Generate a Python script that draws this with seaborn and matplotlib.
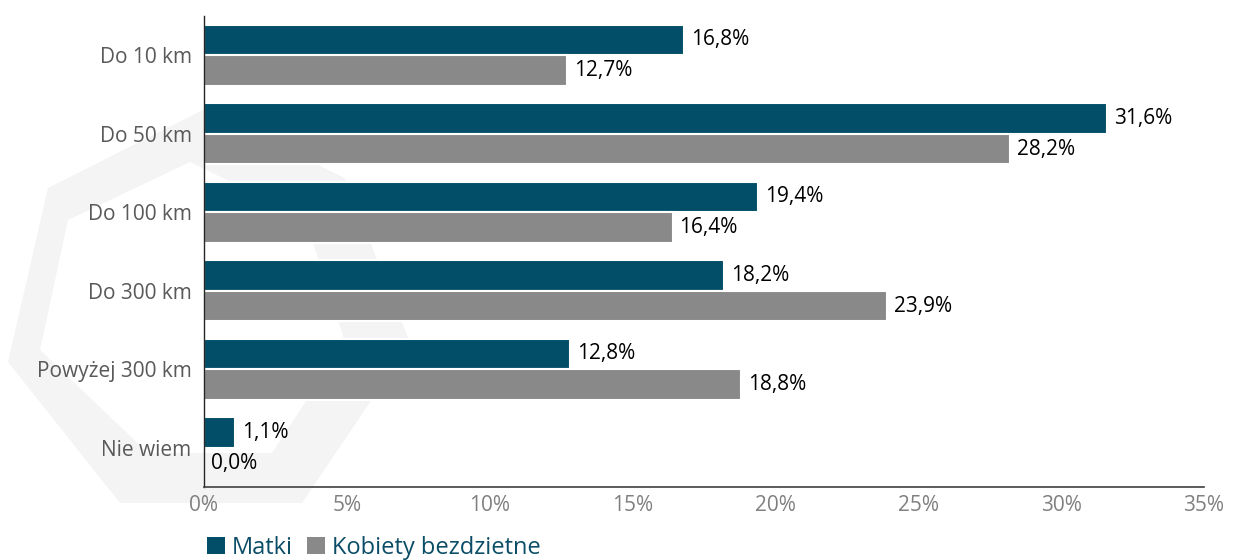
import matplotlib
matplotlib.use("Agg")
import matplotlib.pyplot as plt
from matplotlib.patches import Polygon, Patch
import seaborn as sns
import pandas as pd

categories = ["Do 10 km", "Do 50 km", "Do 100 km", "Do 300 km", "Powyżej 300 km", "Nie wiem"]
series_names = ["Matki", "Kobiety bezdzietne"]
matki = [16.8, 31.6, 19.4, 18.2, 12.8, 1.1]
bezdzietne = [12.7, 28.2, 16.4, 23.9, 18.8, 0.0]
x_ticks = [0, 5, 10, 15, 20, 25, 30, 35]
x_tick_labels = ["0%", "5%", "10%", "15%", "20%", "25%", "30%", "35%"]

colors = ["#024e68", "#898989"]

df = pd.DataFrame({
    "kategoria": categories * 2,
    "grupa": [series_names[0]] * len(categories) + [series_names[1]] * len(categories),
    "wartosc": matki + bezdzietne,
})

sns.set_theme(style="white")
plt.rcParams["font.family"] = ["Open Sans", "DejaVu Sans"]

W, H = 1233, 560
fig = plt.figure(figsize=(W / 100, H / 100), dpi=100)
fig.patch.set_facecolor("white")

# faint hexagonal watermark in the background
def px(points):
    return [(x / W, 1 - y / H) for x, y in points]

outer = [(8, 362), (48, 188), (203, 110), (345, 178), (410, 343), (302, 503), (120, 503)]
inner = [(40, 350), (68, 220), (190, 162), (305, 218), (345, 342), (272, 453), (148, 453)]
fig.patches.append(Polygon(px(outer), closed=True, transform=fig.transFigure,
                           facecolor="#f4f4f4", edgecolor="none", zorder=-10))
fig.patches.append(Polygon(px(inner), closed=True, transform=fig.transFigure,
                           facecolor="white", edgecolor="none", zorder=-9))

ax = fig.add_axes([204 / W, 1 - 487 / H, 1000 / W, 471 / H])
ax.set_facecolor("none")
ax.set_zorder(5)

sns.barplot(data=df, y="kategoria", x="wartosc", hue="grupa", order=categories,
            hue_order=series_names, palette=colors, saturation=1, orient="h",
            width=0.78, edgecolor="white", linewidth=1.5, ax=ax, legend=False)

for container, vals in zip(ax.containers, [matki, bezdzietne]):
    labels = [f"{v:.1f}".replace(".", ",") + "%" for v in vals]
    ax.bar_label(container, labels=labels, padding=5, fontsize=15, color="#000000")

ax.set_xlim(0, 35)
ax.set_xticks(x_ticks)
ax.set_xticklabels(x_tick_labels, fontsize=15, color="#808080")
ax.tick_params(axis="x", direction="in", length=4, width=1, color="#404040", pad=6)
ax.tick_params(axis="y", length=0, pad=9, labelsize=15, labelcolor="#595959")
ax.set_xlabel("")
ax.set_ylabel("")

for side in ["top", "right"]:
    ax.spines[side].set_visible(False)
ax.spines["left"].set_color("#262626")
ax.spines["left"].set_linewidth(1.0)
ax.spines["bottom"].set_color("#404040")
ax.spines["bottom"].set_linewidth(1.2)

handles = [Patch(facecolor=c, edgecolor="none") for c in colors]
leg = fig.legend(handles, series_names, loc="center left",
                 bbox_to_anchor=(198 / W, 1 - 548 / H), frameon=False,
                 fontsize=17, handlelength=0.75, handleheight=0.75,
                 handletextpad=0.3, columnspacing=0.6, ncol=2, borderaxespad=0)
for t in leg.get_texts():
    t.set_color("#0b4d66")

fig.savefig("out.png", dpi=100, facecolor="white")
